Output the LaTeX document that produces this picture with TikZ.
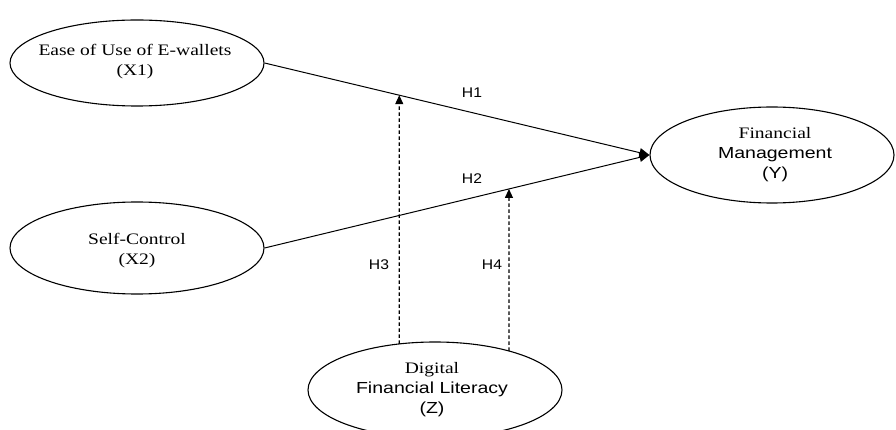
\documentclass[tikz,border=0pt]{standalone}
\usepackage{fontspec}
\setmainfont{Liberation Serif}[FakeStretch=1.22]
\setsansfont{Liberation Sans}[FakeStretch=1.22]
\newfontfamily\hfont{Liberation Sans}[FakeStretch=1.12]
\usetikzlibrary{shapes.geometric,arrows.meta,intersections}
\begin{document}
\begin{tikzpicture}[x=1pt,y=-1pt,
  construct/.style={ellipse,draw,line width=1.1pt,inner sep=0pt},
  ctext/.style={align=center,inner sep=0pt,font=\fontsize{16}{20}\selectfont},
  path/.style={line width=1pt,-{Triangle[length=10pt,width=9pt]}},
  modpath/.style={line width=1.2pt,dash pattern=on 3.5pt off 2.5pt,
    -{Triangle[length=9pt,width=8pt]}},
  hlab/.style={font=\hfont\fontsize{14}{16}\selectfont,inner sep=0pt}]
\useasboundingbox (0,0) rectangle (896,430);
\node[construct,minimum width=254pt,minimum height=86pt] (X1) at (137,63) {};
\node[construct,minimum width=254pt,minimum height=92pt] (X2) at (137,248) {};
\node[construct,minimum width=244pt,minimum height=96pt] (Y) at (772,155) {};
\node[construct,name path=zp,minimum width=254pt,minimum height=96pt] (Z) at (435,390) {};
\node[ctext] (X1t) at (135,62) {Ease of Use of E-wallets\\(X1)};
\node[ctext] (X2t) at (137,251) {Self-Control\\(X2)};
\node[ctext] (Yt) at (775,155) {Financial\\\sffamily Management\\\sffamily (Y)};
\node[ctext] (Zt) at (432,390) {Digital\\\sffamily Financial Literacy\\\sffamily (Z)};
\draw[path] (X1.east) -- (Y.west) coordinate[pos=0.35] (h3top);
\draw[path] (X2.east) -- (Y.west) coordinate[pos=0.635] (h4top);
\path[name path=v3] (h3top) -- ++(0,400);
\path[name path=v4] (h4top) -- ++(0,400);
\path[name intersections={of=zp and v3,by=h3bot}];
\path[name intersections={of=zp and v4,by=h4bot}];
\draw[modpath] (h3bot) -- (h3top);
\draw[modpath] (h4bot) -- (h4top);
\node[hlab] (H1) at (472,93) {H1};
\node[hlab] (H2) at (472,179) {H2};
\node[hlab] (H3) at (379,265) {H3};
\node[hlab] (H4) at (492,265) {H4};
\end{tikzpicture}
\end{document}
